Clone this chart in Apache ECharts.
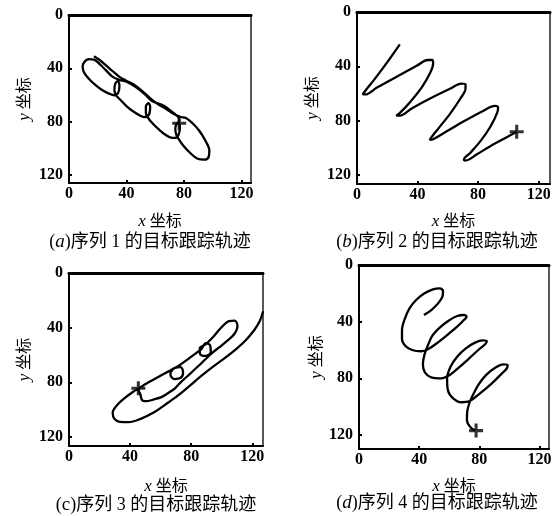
<!DOCTYPE html>
<html><head><meta charset="utf-8">
<script src="https://cdn.jsdelivr.net/npm/echarts@6/dist/echarts.min.js"></script>
<style>html,body{margin:0;padding:0;background:#fff}#c{width:552px;height:516px}</style>
</head><body><div id="c"></div>
<script>
// ---- data ----
const tickValues = [0, 40, 80, 120];
const innerTicks = [40, 80, 120];
const xAxisMax = [126.7, 127.5, 127, 126.4];
const yAxisMax = [126, 126.8, 126.6, 129.9];
const captionLetters = ['a', 'b', 'c', 'd'];
const captionTexts = ['序列 1 的目标跟踪轨迹', '序列 2 的目标跟踪轨迹', '序列 3 的目标跟踪轨迹', '序列 4 的目标跟踪轨迹'];
const xName = '坐标';
const yName = '坐标';

const track1 = [[17.4,30.9],[20.9,33.4],[25.6,37.6],[30.2,42.0],[34.9,46.2],[39.5,49.1],[45.3,52.3],[51.2,57.3],[57.0,62.9],[62.3,67.1],[67.4,70.3],[73.3,74.5],[77.9,76.5],[81.4,77.2],[86.0,81.2],[90.7,86.8],[94.9,94.2],[97.7,101.6],[97.2,106.5],[94.2,108.5],[89.5,107.8],[84.2,103.3],[79.5,97.9],[76.3,93.0],[74.9,90.5],
[74.0,85.6],[75.3,81.2],[77.2,83.1],[76.7,88.5],[74.9,92.0],[72.1,92.2],
[67.4,90.0],[62.3,85.6],[58.1,81.2],[54.9,76.9],[53.5,73.3],
[53.5,68.8],[55.3,66.1],[56.5,68.8],[55.8,74.5],[53.0,76.5],[50.0,75.7],
[45.3,72.8],[40.0,68.3],[36.0,63.9],[33.0,60.5],
[31.6,56.5],[32.1,51.8],[34.0,49.6],[35.1,53.1],[34.2,58.5],[31.4,60.2],[27.9,59.0],
[23.3,56.5],[18.1,52.3],[13.5,47.4],[10.2,42.5],[9.5,38.3],[11.2,34.6],[14.0,33.1],[17.4,33.4],[21.4,36.8],[25.6,41.3],[30.2,46.2],
[34.9,48.6],[40.0,50.1],[46.5,54.1],[52.3,59.0],[58.1,64.7],
[62.3,66.4],[66.3,68.3],[70.9,72.0],[74.9,75.2],[76.7,78.2],[75.8,82.1]];
const start1 = [[76.7, 81.2]];

const track2 = [[28.3,23.8],[19.9,37.1],[11.0,50.4],[5.5,58.1],[4.0,60.5],[5.5,60.8],[13.2,55.7],[26.5,47.5],[39.7,39.5],[46.8,35.4],[49.7,35.4],[50.3,37.8],[48.6,44.3],[43.0,55.2],[35.3,66.1],[28.7,74.0],[26.0,76.4],[28.3,76.4],[36.4,70.9],[48.6,63.6],[61.8,56.4],[68.9,52.8],[71.7,53.3],[71.7,56.4],[68.4,63.6],[61.8,74.5],[54.1,85.4],[49.0,92.6],[48.1,94.3],[50.3,93.8],[58.5,88.5],[70.6,80.6],[83.9,72.6],[90.9,69.2],[93.2,70.2],[92.7,74.0],[88.3,84.2],[81.7,95.0],[75.1,103.5],[70.6,108.8],[71.7,109.5],[79.5,104.7],[88.3,98.7],[97.1,93.4],[105.5,88.3]];
const start2 = [[105.5, 88.3]];

const track3 = [[45.2,84.8],[52.4,79.8],[59.0,75.7],[65.5,71.8],[69.4,69.4],
[73.1,68.9],[74.7,73.0],[72.9,76.9],[69.0,77.6],[66.4,74.5],[67.7,70.8],[71.6,68.0],
[77.5,63.4],[83.0,58.8],[86.5,55.9],
[89.5,51.3],[92.4,53.0],[92.8,57.8],[89.5,60.7],[85.8,59.3],[85.6,54.9],[89.1,52.5],
[95.0,46.0],[100.0,39.5],[104.8,35.2],[108.5,34.9],[110.3,38.8],
[108.1,44.8],[103.3,49.9],[98.3,54.5],[94.5,57.8],[87.3,65.3],[79.7,73.3],[73.1,80.0],[69.2,84.6],[64.4,88.2],[60.5,90.8],[55.7,92.5],[51.3,93.7],[48.5,93.5],[47.4,92.0],
[46.7,88.7],[44.8,85.3],[40.4,88.2],[35.4,92.5],[31.0,97.3],[28.6,102.2],[29.7,106.7],[33.2,108.9],[38.9,109.2],
[46.9,106.7],[55.7,101.9],[63.3,96.1],[71.0,89.9],[78.6,82.9],[86.2,75.7],[93.9,68.9],[101.5,62.7],[109.2,55.9],[115.7,49.2],[121.2,41.9],[124.9,35.2],[127.1,28.0]];
const start3 = [[45.4, 84.3]];

const track4 = [[43.2,35.3],[48.1,31.8],[52.6,27.1],[55.5,22.4],[55.9,18.4],[53.7,16.5],[49.2,17.2],[43.6,20.0],[38.0,24.7],[33.6,30.6],[30.6,37.6],[28.6,45.9],[28.6,52.2],[30.9,57.2],[35.3,60.0],[41.4,60.9],[45.9,59.5],
[52.6,54.6],[59.3,48.9],[65.3,43.5],[69.8,38.8],[71.6,36.5],[69.8,35.3],[65.3,36.0],[59.3,39.5],[53.7,44.2],[48.8,49.9],[45.9,56.5],[43.6,63.1],[42.5,70.1],[43.8,75.8],[48.1,79.3],[54.8,80.0],[60.4,77.6],
[67.1,71.8],[73.8,65.4],[80.1,59.3],[83.9,56.0],[85.0,53.6],[82.3,53.2],[77.2,54.8],[71.1,58.8],[65.3,64.7],[60.9,71.8],[58.6,80.0],[59.1,88.2],[62.6,94.1],[68.2,96.9],[73.8,96.0],
[80.5,90.6],[88.4,83.5],[95.1,76.5],[98.4,72.9],[98.9,70.6],[96.2,70.1],[90.6,72.5],[84.6,77.6],[79.4,84.7],[75.6,92.2],[73.4,97.6],[72.0,103.5],[71.8,109.4],[73.8,114.1],[77.2,116.9]];
const start4 = [[77.9, 116.9]];

const tracks = [track1, track2, track3, track4];
const starts = [start1, start2, start3, start4];

// ---- layout ----
const grids = [
  {left: 69, top: 15, width: 182, height: 168},
  {left: 357, top: 12, width: 193, height: 172},
  {left: 69, top: 273, width: 194, height: 173},
  {left: 359, top: 265, width: 190, height: 184}
];
const xNameGap = [30, 29, 32, 29];
const yNameGap = [36, 36, 36, 33];
const captionPos = [[150, 242], [437, 242], [156, 505], [437, 503]];

const serif = '"Liberation Serif", "Times New Roman", serif';
const cjk = '"Liberation Serif", "Noto Sans CJK SC", sans-serif';
const plusPath = 'path://M3.9,0H6.1V3.9H10V6.1H6.1V10H3.9V6.1H0V3.9H3.9Z';

const option = {
  animation: false,
  backgroundColor: '#fff',
  grid: grids.map(g => Object.assign({show: true, borderColor: '#000', borderWidth: 1.3, backgroundColor: 'transparent', containLabel: false, outerBoundsMode: 'none'}, g)),
  xAxis: [],
  yAxis: [],
  series: [],
  graphic: []
};

for (let i = 0; i < 4; i++) {
  option.xAxis.push({
    type: 'value', gridIndex: i, min: 0, max: xAxisMax[i], position: 'bottom',
    name: '{i|x} ' + xName, nameLocation: 'middle', nameGap: xNameGap[i],
    nameTextStyle: {color: '#000', fontSize: 16, fontFamily: cjk, verticalAlign: 'top',
      rich: {i: {fontStyle: 'italic', fontFamily: serif, fontSize: 17, color: '#000'}}},
    axisLine: {show: true, onZero: false, lineStyle: {color: '#000', width: 2}},
    axisTick: {show: true, inside: true, length: 3, customValues: innerTicks, lineStyle: {color: '#000', width: 2}},
    axisLabel: {show: true, customValues: tickValues, color: '#000', fontFamily: serif, fontSize: 16, fontWeight: 'bold', margin: 3},
    splitLine: {show: false}
  });
  option.yAxis.push({
    type: 'value', gridIndex: i, min: 0, max: yAxisMax[i], inverse: true, position: 'left',
    name: '{i|y} ' + yName, nameLocation: 'middle', nameGap: yNameGap[i],
    nameTextStyle: {color: '#000', fontSize: 16, fontFamily: cjk,
      rich: {i: {fontStyle: 'italic', fontFamily: serif, fontSize: 17, color: '#000'}}},
    axisLine: {show: true, onZero: false, lineStyle: {color: '#000', width: 2}},
    axisTick: {show: true, inside: true, length: 3, customValues: innerTicks, lineStyle: {color: '#000', width: 2}},
    axisLabel: {show: true, customValues: tickValues, color: '#000', fontFamily: serif, fontSize: 16, fontWeight: 'bold', margin: 6},
    splitLine: {show: false}
  });
}
// thicker top frame line
for (let i = 0; i < 4; i++) {
  option.xAxis.push({
    type: 'value', gridIndex: i, min: 0, max: xAxisMax[i], position: 'top',
    axisLine: {show: true, onZero: false, lineStyle: {color: '#000', width: 3}},
    axisTick: {show: false}, axisLabel: {show: false}, splitLine: {show: false}
  });
}
for (let i = 0; i < 4; i++) {
  option.series.push({
    type: 'line', xAxisIndex: i, yAxisIndex: i, data: tracks[i],
    showSymbol: false, smooth: 0.35, clip: true,
    lineStyle: {color: '#000', width: 2.3}
  });
  option.series.push({
    type: 'scatter', xAxisIndex: i, yAxisIndex: i, data: starts[i],
    symbol: plusPath, symbolSize: 14, itemStyle: {color: '#000'}, z: 5
  });
  const letter = captionLetters[i];
  option.graphic.push({
    type: 'text', x: captionPos[i][0], y: captionPos[i][1],
    style: {
      text: '({' + (letter === 'c' ? 'u' : 'i') + '|' + letter + '})' + captionTexts[i],
      align: 'center', verticalAlign: 'middle',
      fill: '#000', font: '18px ' + cjk,
      rich: {
        i: {fontStyle: 'italic', fontFamily: serif, fontSize: 19, fill: '#000'},
        u: {fontFamily: serif, fontSize: 19, fill: '#000'}
      }
    }
  });
}

const chart = echarts.init(document.getElementById('c'), null, {renderer: 'canvas'});
chart.setOption(option);
</script>
</body></html>
